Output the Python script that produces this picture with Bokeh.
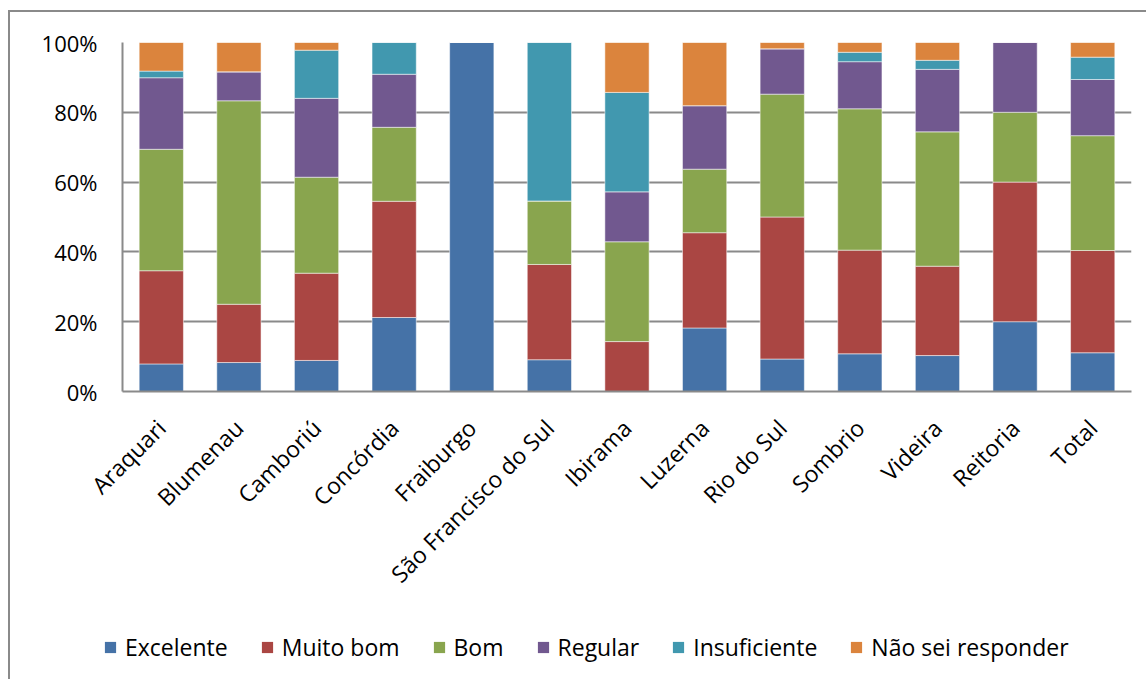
from bokeh.plotting import figure
from bokeh.layouts import column, row
from bokeh.models import (FactorRange, Range1d, PrintfTickFormatter, FixedTicker,
                          Legend, LegendItem)
from bokeh.embed import file_html
from bokeh.resources import INLINE
import math

# Campuses (categories on the x axis)
campi = ["Araquari", "Blumenau", "Camboriú", "Concórdia", "Fraiburgo",
         "São Francisco do Sul", "Ibirama", "Luzerna", "Rio do Sul",
         "Sombrio", "Videira", "Reitoria", "Total"]

# Share of answers per campus (%)
excelente = [7.9, 8.3, 8.9, 21.2, 100.0, 9.1, 0.0, 18.2, 9.3, 10.8, 10.3, 20.0, 11.1]
muito_bom = [26.7, 16.7, 25.0, 33.3, 0.0, 27.3, 14.3, 27.3, 40.7, 29.7, 25.6, 40.0, 29.3]
bom = [34.8, 58.3, 27.5, 21.2, 0.0, 18.2, 28.6, 18.2, 35.2, 40.5, 38.5, 20.0, 32.9]
regular = [20.5, 8.3, 22.6, 15.2, 0.0, 0.0, 14.3, 18.2, 13.0, 13.5, 17.9, 20.0, 16.1]
insuficiente = [1.9, 0.0, 13.8, 9.1, 0.0, 45.4, 28.5, 0.0, 0.0, 2.7, 2.6, 0.0, 6.4]
nao_sei = [8.2, 8.4, 2.2, 0.0, 0.0, 0.0, 14.3, 18.1, 1.8, 2.8, 5.1, 0.0, 4.2]

series_names = ["Excelente", "Muito bom", "Bom", "Regular", "Insuficiente",
                "Não sei responder"]
y_ticks = [0, 20, 40, 60, 80, 100]

colors = ["#4572A7", "#AA4643", "#89A54E", "#71588F", "#4198AF", "#DB843D"]
keys = ["excelente", "muito_bom", "bom", "regular", "insuficiente", "nao_sei"]
source = dict(campus=campi, excelente=excelente, muito_bom=muito_bom, bom=bom,
              regular=regular, insuficiente=insuficiente, nao_sei=nao_sei)

FONT = "Open Sans"
GRAY = "#8a8a8a"

# Main chart
p = figure(x_range=FactorRange(*campi, range_padding=0),
           y_range=Range1d(0, 100),
           width=1136, height=613, output_backend="svg", toolbar_location=None,
           min_border_left=112, min_border_right=15, min_border_top=30,
           min_border_bottom=234)

p.vbar_stack(keys, x="campus", width=0.57, color=colors,
             line_color="white", line_alpha=0.5, line_width=1, source=source)

p.outline_line_color = None
p.xgrid.grid_line_color = None
p.ygrid.grid_line_color = GRAY
p.ygrid.grid_line_width = 2

p.yaxis.ticker = FixedTicker(ticks=y_ticks)
p.yaxis.formatter = PrintfTickFormatter(format="%d%%")
p.yaxis.axis_line_color = GRAY
p.yaxis.axis_line_width = 2
p.yaxis.major_tick_line_color = None
p.yaxis.minor_tick_line_color = None
p.yaxis.major_label_standoff = 19
p.yaxis.major_label_text_font = FONT
p.yaxis.major_label_text_font_size = "22px"
p.yaxis.major_label_text_color = "black"

p.xaxis.axis_line_color = GRAY
p.xaxis.axis_line_width = 2
p.xaxis.major_tick_line_color = None
p.xaxis.major_label_orientation = math.pi / 4
p.xaxis.major_label_standoff = 26
p.xaxis.major_label_text_font = FONT
p.xaxis.major_label_text_font_size = "23px"
p.xaxis.major_label_text_color = "black"

# Legend strip below the chart
lp = figure(width=1136, height=54, x_range=Range1d(0, 1), y_range=Range1d(0, 1),
            x_axis_type=None, y_axis_type=None,
            output_backend="svg", toolbar_location=None, min_border=0)
lp.grid.visible = False
lp.outline_line_color = None

# flat (zero-height) bars: only their legend swatches are visible
swatches = [lp.vbar(x=[0.5], top=[0], bottom=[0], width=0.1, color=c,
                    line_color=None) for c in colors]
legend = Legend(items=[LegendItem(label=n, renderers=[r])
                       for n, r in zip(series_names, swatches)],
                orientation="horizontal", location=(93, 16),
                glyph_width=14, glyph_height=14, label_standoff=8, spacing=32,
                padding=0, margin=0, border_line_color=None,
                background_fill_alpha=0,
                label_text_font=FONT, label_text_font_size="23px",
                label_text_color="black")
lp.add_layout(legend, "center")

layout = column(p, row(lp), spacing=0,
                styles={"margin-left": "8px", "margin-top": "10px",
                        "border-left": f"2px solid {GRAY}",
                        "border-top": f"2px solid {GRAY}"})

open("out.html", "w").write(file_html(layout, INLINE))
